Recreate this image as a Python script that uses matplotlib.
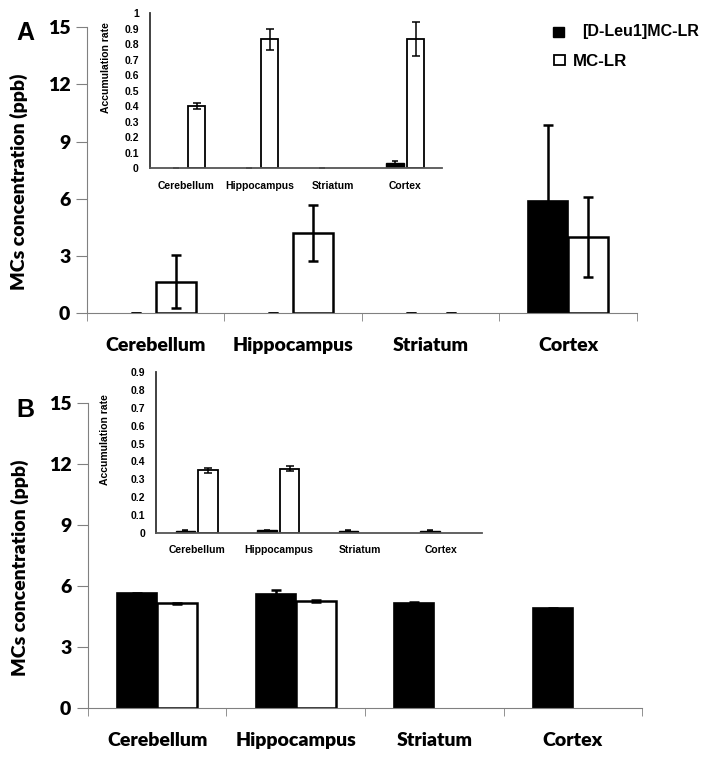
import matplotlib.pyplot as plt
import numpy as np

regions = ['Cerebellum', 'Hippocampus', 'Striatum', 'Cortex']

# panel A main (ppb)
a_leu = [0, 0, 0, 5.9]
a_leu_err = [0, 0, 0, 3.95]
a_lr = [1.65, 4.2, 0, 4.0]
a_lr_err = [1.4, 1.45, 0, 2.1]
# panel A inset (accumulation rate)
ai_leu = [0, 0, 0, 0.03]
ai_leu_err = [0, 0, 0, 0.018]
ai_lr = [0.40, 0.83, np.nan, 0.83]
ai_lr_err = [0.02, 0.07, 0, 0.11]

# panel B main (ppb)
b_leu = [5.65, 5.6, 5.15, 4.9]
b_leu_err = [0.02, 0.22, 0.06, 0.02]
b_lr = [5.15, 5.25, np.nan, np.nan]
b_lr_err = [0.02, 0.04, 0, 0]
# panel B inset
bi_leu = [0.012, 0.015, 0.012, 0.012]
bi_leu_err = [0.002, 0.004, 0.003, 0.003]
bi_lr = [0.35, 0.36, np.nan, np.nan]
bi_lr_err = [0.015, 0.015, 0, 0]

main_font = ['Lato', 'DejaVu Sans']
main_weight = 'heavy'
small_font = ['Liberation Sans', 'DejaVu Sans']
grey = '#808080'

fig = plt.figure(figsize=(7.14, 7.79), dpi=100)


def main_panel(rect, leu, leu_err, lr, lr_err):
    ax = fig.add_axes(rect)
    x = np.arange(len(regions))
    w = 0.29
    leu = np.array(leu, dtype=float)
    lr = np.array(lr, dtype=float)
    # zero values show only as the error-bar cap
    ax.bar(x - w/2, np.where(leu > 0, leu, np.nan), w, color='black',
           edgecolor='black', linewidth=1.2)
    ax.bar(x + w/2, np.where(lr > 0, lr, np.nan), w, color='white',
           edgecolor='black', linewidth=1.8)
    ax.errorbar(x - w/2, leu, yerr=leu_err, fmt='none', ecolor='black',
                elinewidth=1.8, capsize=3.5, capthick=1.8)
    ok = ~np.isnan(lr)
    ax.errorbar((x + w/2)[ok], lr[ok], yerr=np.array(lr_err)[ok],
                fmt='none', ecolor='black', elinewidth=1.8, capsize=3.5, capthick=1.8)
    ax.set_xlim(-0.5, 3.5)
    ax.set_ylim(0, 15)
    ax.set_yticks(np.arange(0, 16, 3))
    ax.set_xticks(x)
    ax.set_xticklabels(regions, family=main_font, fontweight=main_weight, fontsize=14)
    ax.set_xticks(np.arange(-0.5, 4, 1), minor=True)
    ax.tick_params(axis='x', which='major', length=0, pad=17)
    ax.tick_params(axis='x', which='minor', length=6, color=grey, direction='out')
    ax.tick_params(axis='y', length=8, color=grey, pad=4)
    for lab in ax.get_yticklabels():
        lab.set_family(main_font)
        lab.set_fontweight(main_weight)
        lab.set_fontsize(14)
    for s in ['top', 'right']:
        ax.spines[s].set_visible(False)
    ax.spines['left'].set_color(grey)
    ax.spines['bottom'].set_color(grey)
    ax.set_ylabel('MCs concentration (ppb)', family=main_font,
                  fontweight=main_weight, fontsize=14)
    ax.yaxis.set_label_coords(-0.107, 0.46)
    return ax


def inset(rect, leu, leu_err, lr, lr_err, top, ticks, lab_xy):
    ax = fig.add_axes(rect)
    x = np.arange(len(regions))
    w = 0.24
    leu = np.array(leu, dtype=float)
    lr = np.array(lr, dtype=float)
    ax.bar(x - w/2 - 0.02, np.where(leu > 0, leu, np.nan), w, color='black',
           edgecolor='black', linewidth=1)
    ax.bar(x + w/2 + 0.02, lr, w, color='white', edgecolor='black', linewidth=1.3)
    ax.errorbar(x - w/2 - 0.02, leu, yerr=leu_err, fmt='none', ecolor='black',
                elinewidth=1.1, capsize=2.5, capthick=1.1)
    ok = ~np.isnan(lr)
    ax.errorbar((x + w/2 + 0.02)[ok], lr[ok], yerr=np.array(lr_err)[ok],
                fmt='none', ecolor='black', elinewidth=1.1, capsize=3, capthick=1.1)
    ax.set_xlim(-0.5, 3.5)
    ax.set_ylim(0, top)
    ax.set_yticks(ticks)
    ax.set_yticklabels(['0' if t == 0 else ('1' if t == 1 else f'{t:.1f}') for t in ticks])
    ax.set_xticks(x)
    ax.set_xticklabels(regions)
    ax.tick_params(axis='x', length=0, pad=9)
    ax.tick_params(axis='y', length=0, pad=8)
    for lab in ax.get_xticklabels() + ax.get_yticklabels():
        lab.set_family(small_font)
        lab.set_fontweight('bold')
        lab.set_fontsize(7.5)
    for s in ['top', 'right']:
        ax.spines[s].set_visible(False)
    ax.spines['left'].set_color('#333333')
    ax.spines['bottom'].set_color('#555555')
    ax.spines['left'].set_linewidth(1.3)
    ax.spines['bottom'].set_linewidth(1.3)
    ax.set_ylabel('Accumulation rate', family=small_font, fontweight='bold',
                  fontsize=7.5)
    ax.yaxis.set_label_coords(*lab_xy)
    return ax


main_panel([0.1218, 0.598, 0.770, 0.367], a_leu, a_leu_err, a_lr, a_lr_err)
inset([0.210, 0.7843, 0.409, 0.199], ai_leu, ai_leu_err, ai_lr, ai_lr_err,
      1.0, np.round(np.arange(0, 1.01, 0.1), 1), (-0.135, 0.645))

main_panel([0.1232, 0.0911, 0.776, 0.3915], b_leu, b_leu_err, b_lr, b_lr_err)
inset([0.2185, 0.3158, 0.4566, 0.2067], bi_leu, bi_leu_err, bi_lr, bi_lr_err,
      0.9, np.round(np.arange(0, 0.91, 0.1), 1), (-0.14, 0.58))

# panel letters
fig.text(0.036, 1 - 33/779, 'A', family=small_font, fontweight='bold',
         fontsize=18, ha='center', va='center')
fig.text(0.036, 1 - 410/779, 'B', family=small_font, fontweight='bold',
         fontsize=18, ha='center', va='center')

# legend
fig.patches.append(plt.Rectangle((0.7745, 0.9525), 0.0154, 0.0128, color='black',
                                 transform=fig.transFigure))
fig.patches.append(plt.Rectangle((0.776, 0.9166), 0.0154, 0.0128, facecolor='white',
                                 edgecolor='black', linewidth=1.3, transform=fig.transFigure))
fig.text(0.815, 0.960, '[D-Leu1]MC-LR', family=small_font, fontweight='bold',
         fontsize=11.5, va='center')
fig.text(0.802, 0.921, 'MC-LR', family=small_font, fontweight='bold',
         fontsize=12.2, va='center')

fig.savefig('out.png', dpi=100)
